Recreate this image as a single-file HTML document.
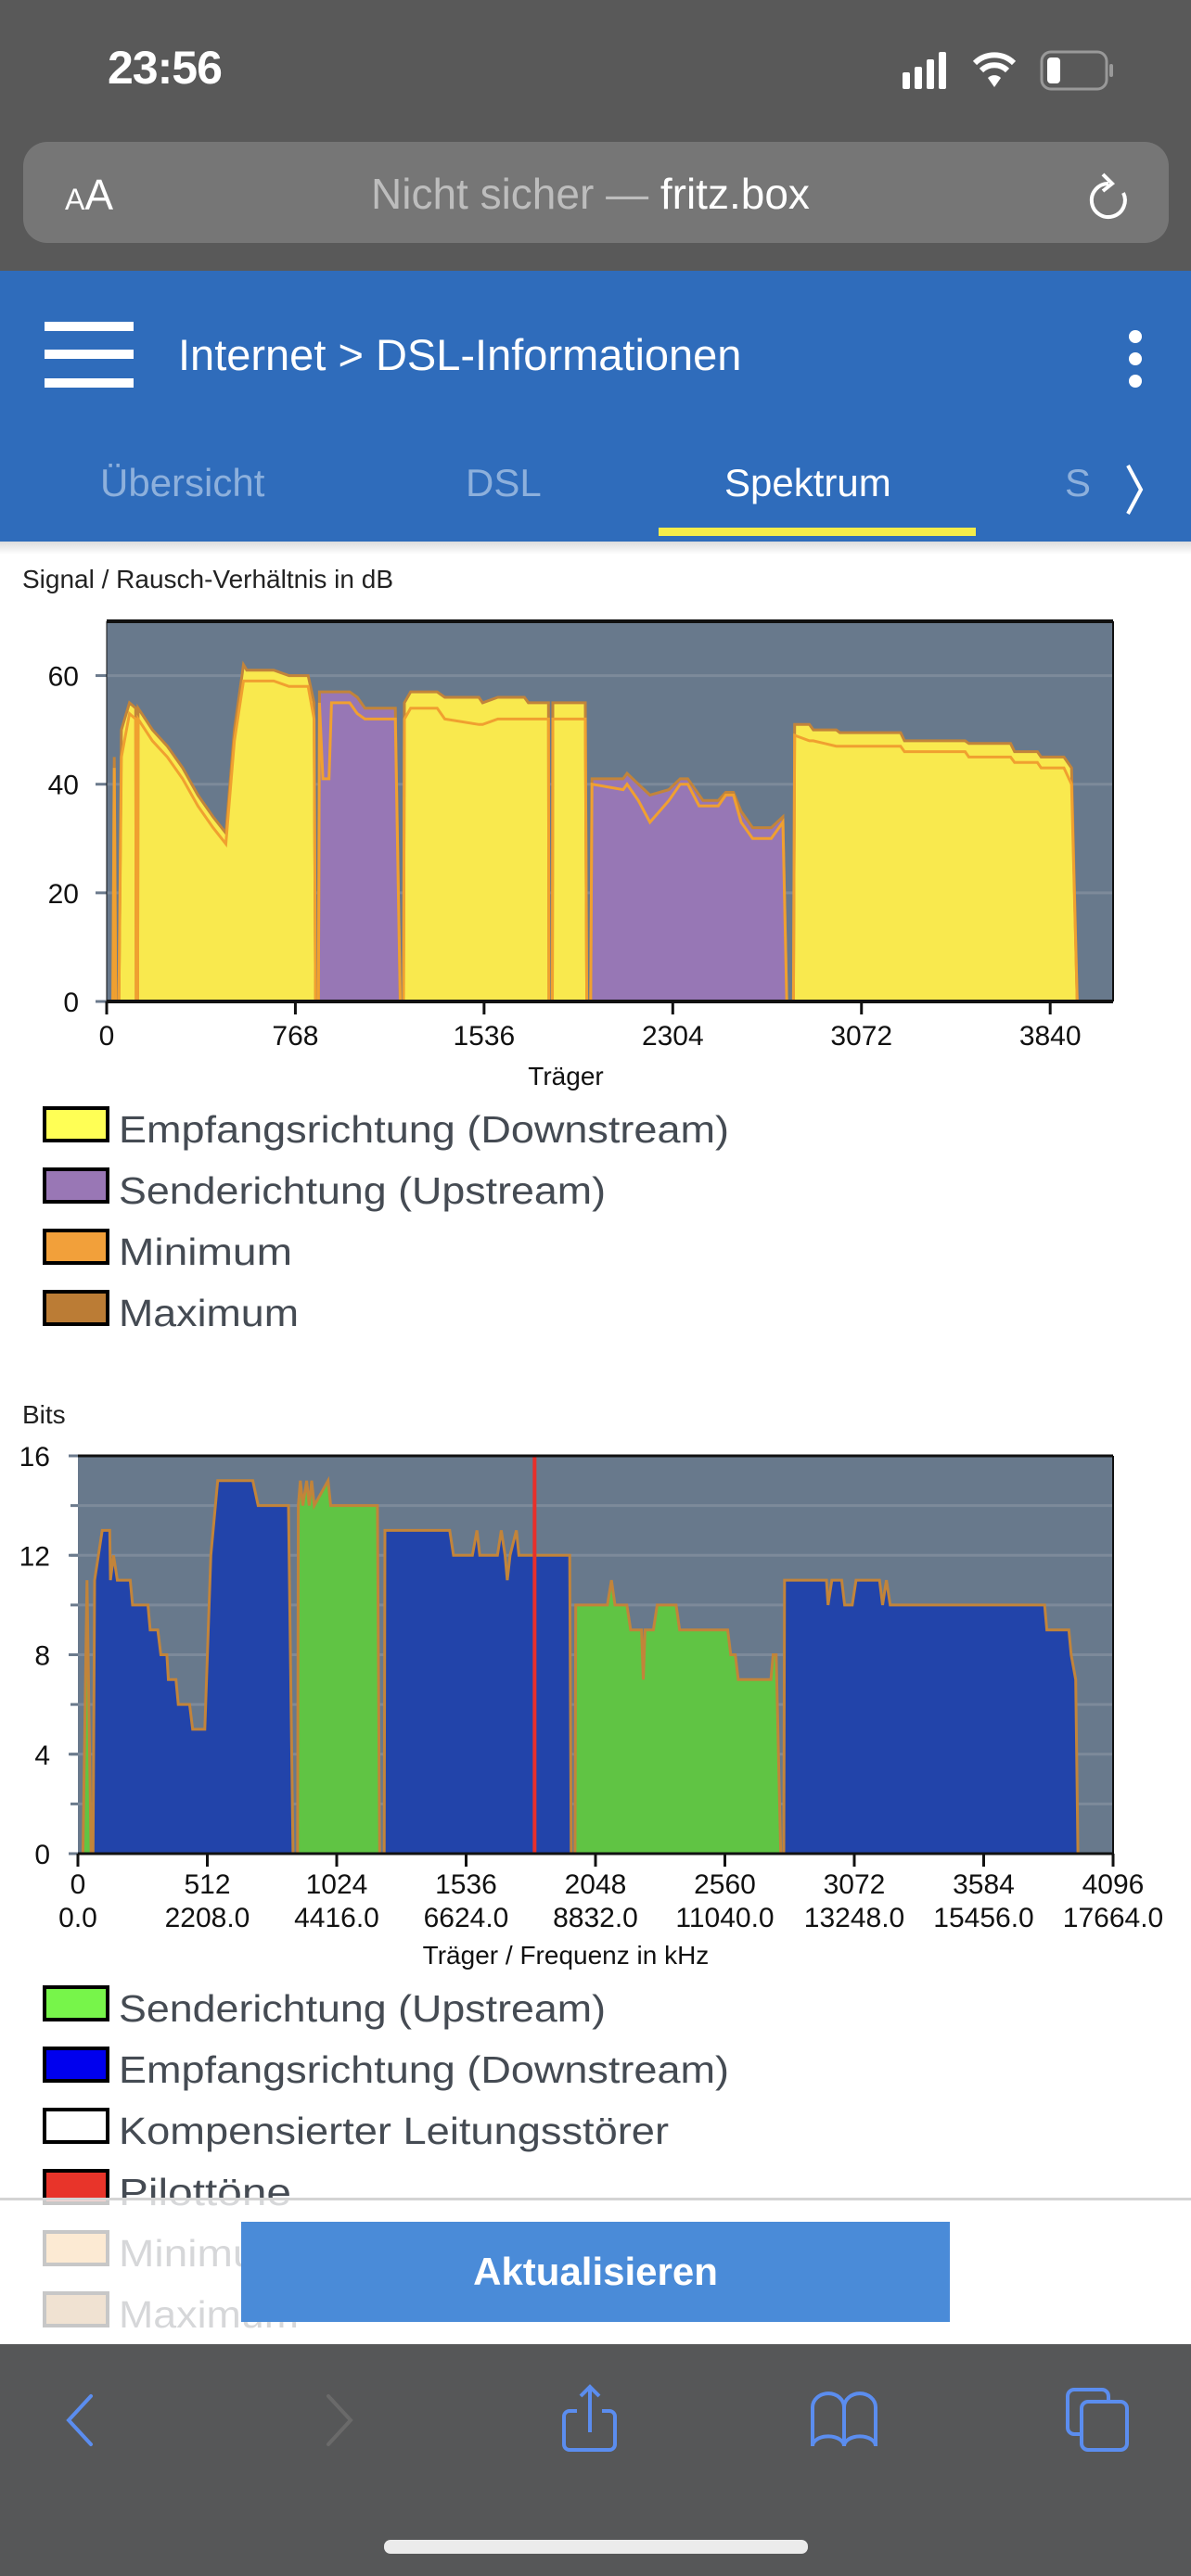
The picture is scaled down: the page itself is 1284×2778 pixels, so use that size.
<!DOCTYPE html>
<html><head><meta charset="utf-8">
<style>
html,body{margin:0;padding:0;}
body{width:1284px;height:2778px;position:relative;overflow:hidden;background:#fff;font-family:"Liberation Sans",sans-serif;}
.abs{position:absolute;}
</style></head>
<body>
<div class="abs" style="left:0;top:0;width:1284px;height:292px;background:#595959;"></div>
<div class="abs" style="left:116px;top:44px;font-size:50px;font-weight:bold;color:#fff;letter-spacing:-1px;">23:56</div>
<svg class="abs" style="left:960px;top:50px" width="250" height="60">
 <rect x="13" y="28" width="8" height="18" rx="2" fill="#fff"/><rect x="26" y="22" width="8" height="24" rx="2" fill="#fff"/><rect x="39" y="14" width="8" height="32" rx="2" fill="#fff"/><rect x="52" y="6" width="8" height="40" rx="2" fill="#fff"/>
 <path d="M91 18 a30 30 0 0 1 42 0" stroke="#fff" stroke-width="6" fill="none"/><path d="M98 26 a20 20 0 0 1 28 0" stroke="#fff" stroke-width="6" fill="none"/><path d="M105 34 l7 10 l7 -10 a10 10 0 0 0 -14 0z" fill="#fff"/>
 <rect x="163" y="6" width="70" height="40" rx="10" fill="none" stroke="#999" stroke-width="3"/><rect x="169" y="12" width="14" height="28" rx="4" fill="#fff"/><rect x="236" y="19" width="4" height="14" rx="2" fill="#999"/>
</svg>
<div class="abs" style="left:25px;top:153px;width:1235px;height:109px;background:#767676;border-radius:26px;"></div>
<div class="abs" style="left:70px;top:183px;color:#fff;font-size:46px;"><span style="font-size:32px">A</span>A</div>
<div class="abs" style="left:400px;top:182px;font-size:46px;color:#bdbdbd;white-space:nowrap;">Nicht sicher — <span style="color:#fff">fritz.box</span></div>
<svg class="abs" style="left:1165px;top:180px" width="60" height="70"><path d="M30 18 a18 18 0 1 0 16 10" stroke="#fff" stroke-width="4" fill="none"/><path d="M24 8 l10 10 l-10 8" stroke="#fff" stroke-width="4" fill="none"/></svg>

<div class="abs" style="left:0;top:292px;width:1284px;height:292px;background:#2f6cbb;"></div>
<div class="abs" style="left:48px;top:347px;width:96px;height:70px;">
 <div style="position:absolute;left:0;top:0;width:96px;height:10px;background:#fff"></div>
 <div style="position:absolute;left:0;top:30px;width:96px;height:10px;background:#fff"></div>
 <div style="position:absolute;left:0;top:61px;width:96px;height:10px;background:#fff"></div>
</div>
<div class="abs" style="left:192px;top:355px;font-size:47px;color:#fff;white-space:nowrap;">Internet <span style="font-weight:100">&gt;</span> DSL-Informationen</div>
<div class="abs" style="left:1214px;top:356px;width:20px;">
 <div style="width:14px;height:14px;border-radius:7px;background:#fff;margin:0 0 10px 3px"></div><div style="width:14px;height:14px;border-radius:7px;background:#fff;margin:0 0 10px 3px"></div><div style="width:14px;height:14px;border-radius:7px;background:#fff;margin:0 0 0 3px"></div>
</div>
<div class="abs" style="left:108px;top:497px;font-size:42px;color:#8db0dc;">Übersicht</div>
<div class="abs" style="left:502px;top:497px;font-size:42px;color:#8db0dc;">DSL</div>
<div class="abs" style="left:781px;top:497px;font-size:42px;color:#fff;">Spektrum</div>
<div class="abs" style="left:1148px;top:497px;font-size:42px;color:#8db0dc;">S</div>
<svg class="abs" style="left:1208px;top:498px" width="30" height="60"><path d="M8 4 L22 30 L8 56" stroke="#fff" stroke-width="4" fill="none"/></svg>
<div class="abs" style="left:710px;top:569px;width:342px;height:9px;background:#f4ec4a;"></div>
<div class="abs" style="left:0;top:584px;width:1284px;height:14px;background:linear-gradient(#ddd,#fff);"></div>

<svg class="abs" id="charts" style="left:0;top:0" width="1284" height="2778" font-family="Liberation Sans, sans-serif"></svg>

<div class="abs" style="left:0;top:2370px;width:1284px;height:158px;background:rgba(255,255,255,0.78);border-top:3px solid #d4d4d4;"></div>
<div class="abs" style="left:260px;top:2396px;width:764px;height:108px;background:#4a8bd8;color:#fff;font-size:42px;font-weight:bold;text-align:center;line-height:108px;">Aktualisieren</div>

<div class="abs" style="left:0;top:2528px;width:1284px;height:250px;background:#565758;"></div>
<svg class="abs" style="left:0;top:2528px" width="1284" height="250">
 <path d="M98 56 L74 82 L98 108" stroke="#5b8def" stroke-width="4" fill="none" stroke-linecap="round"/>
 <path d="M354 56 L378 82 L354 108" stroke="#6a6a6a" stroke-width="4" fill="none" stroke-linecap="round"/>
 <g stroke="#5b8def" stroke-width="4" fill="none"><path d="M622 72 h-8 a6 6 0 0 0 -6 6 v30 a6 6 0 0 0 6 6 h43 a6 6 0 0 0 6 -6 v-30 a6 6 0 0 0 -6 -6 h-8"/><path d="M636 95 V46 M626 56 L636 46 L646 56"/></g>
 <g stroke="#5b8def" stroke-width="4" fill="none"><path d="M876 68 a16 14 0 0 1 34 0 v42 a16 10 0 0 0 -34 0z"/><path d="M910 68 a16 14 0 0 1 34 0 v42 a16 10 0 0 0 -34 0z"/></g>
 <g stroke="#5b8def" stroke-width="4" fill="none"><rect x="1151" y="49" width="44" height="48" rx="7"/><rect x="1166" y="62" width="49" height="52" rx="7" fill="#565758"/></g>
 <rect x="414" y="211" width="457" height="15" rx="7" fill="#ebebeb"/>
</svg>

<script>
// ---------- Chart 1: SNR ----------
const snrTicksX = [0, 768, 1536, 2304, 3072, 3840];
const snrTicksY = [0, 20, 40, 60];
const dsCarrier = [0,25,31,37,50,60,93,118,120,126,128,186,247,309,371,433,485,520,557,570,680,742,820,844,850,1208,1212,1237,1345,1376,1515,1530,1592,1700,1716,1798,1800,1814,1816,1948,1954,2795,2800,2860,2876,2969,2984,3231,3247,3494,3509,3679,3695,3788,3803,3896,3927,3950,4096];
const dsMax =     [0,0,45,0,0,50,55,54,0,0,54,50,47,43,38,34,31,50,62,61,61,60,60,55,0,0,55,57,57,56,56,55,56,56,55,55,0,0,55,55,0,0,51,51,50,50,49.5,49.5,48,48,47.5,47.5,46,46,45,45,43,0,0];
const dsMin =     [0,0,43,0,0,45,53,52,0,0,52,48,45,41,36,32,29,48,59,59,59,58,58,52,0,0,52,54,54,52,51,51,52,52,52,52,0,0,52,52,0,0,49,48,48,47,47,47,46,46,45,45,44,44,43,43,40,0,0];
const usCarrier = [0,862,866,880,905,915,989,1020,1051,1175,1195,1970,1975,2102,2118,2164,2211,2288,2334,2365,2411,2427,2489,2520,2551,2582,2629,2705,2752,2768,4096];
const usMax =     [0,0,57,57,57,57,57,56,54,54,0,0,41,41,42,40,38,39,41,41,38,37,37,38.5,38.5,35,32,32,34,0,0];
const usMin =     [0,0,55,41,41,55,55,53,52,52,0,0,40,39,40,37,33,37,40,40,36,36,36,38,38,33,30,30,33,0,0];

// ---------- Chart 2: Bits ----------
const bitTicksX = [0, 512, 1024, 1536, 2048, 2560, 3072, 3584, 4096];
const bitFreqLabels = ["0.0","2208.0","4416.0","6624.0","8832.0","11040.0","13248.0","15456.0","17664.0"];
const bitTicksY = [0, 4, 8, 12, 16];
const bitGrid = [2, 4, 6, 8, 10, 12, 14];
const downCarrier = [0,60,66,81,96,126,129,141,156,207,216,277,286,316,328,352,358,388,397,442,454,502,526,553,692,713,833,851,1212,1215,1471,1486,1561,1579,1590,1660,1675,1690,1699,1710,1735,1745,1946,1952,2793,2796,2962,2968,2983,3022,3034,3064,3079,3172,3184,3199,3214,3825,3834,3921,3930,3948,3957,4096];
const downBits =    [0,0,11,12,13,13,11,12,11,11,10,10,9,9,8,8,7,7,6,6,5,5,12,15,15,14,14,0,0,13,13,12,12,13,12,12,13,12,11,12,13,12,12,0,0,11,11,10,11,11,10,10,11,11,10,11,10,10,9,9,8,7,0,0];
const upCarrier = [0,20,36,52,869,872,880,890,905,915,925,935,990,1000,1185,1194,1967,1970,2095,2111,2125,2172,2187,2230,2237,2244,2277,2292,2367,2381,2571,2583,2601,2613,2742,2751,2763,2781,4096];
const upBits =    [0,0,11,0,0,14,15,14,15,14,15,14,15,14,14,0,0,10,10,11,10,10,9,9,7,9,9,10,10,9,9,8,8,7,7,8,8,0,0];
const pilotCarriers = [1807];

const svg = document.getElementById('charts');
const NS = 'http://www.w3.org/2000/svg';
function mk(tag, attrs, parent){ const e=document.createElementNS(NS,tag); for(const k in attrs) e.setAttribute(k,attrs[k]); (parent||svg).appendChild(e); return e; }

const A = {l:115, r:1200, t:670, b:1080, xmax:4096, ymax:70};
const B = {l:84, r:1200, t:1570, b:1999, xmax:4096, ymax:16};
function sx(c,v){ return c.l + v/c.xmax*(c.r-c.l); }
function sy(c,v){ return c.b - v/c.ymax*(c.b-c.t); }
function area(c, xs, ys){ let d='M'+sx(c,xs[0])+' '+c.b; for(let i=0;i<xs.length;i++) d+=' L'+sx(c,xs[i]).toFixed(1)+' '+sy(c,ys[i]).toFixed(1); d+=' L'+sx(c,xs[xs.length-1])+' '+c.b+' Z'; return d; }
function line(c, xs, ys){ let d=''; for(let i=0;i<xs.length;i++) d+=(i?' L':'M')+sx(c,xs[i]).toFixed(1)+' '+sy(c,ys[i]).toFixed(1); return d; }

// ---- Chart 1 ----
let t = mk('text',{x:24,y:634,'font-size':28,fill:'#222'});


t.textContent='Signal / Rausch-Verhältnis in dB';
let bg = mk('rect',{x:A.l,y:A.t,width:A.r-A.l,height:A.b-A.t,fill:'#68798c'});


snrTicksY.forEach(v=>{
  if(v>0){ const g=mk('line',{x1:A.l,x2:A.r,y1:sy(A,v),y2:sy(A,v),stroke:'#7d8a9a','stroke-width':3});
  
   }
  mk('line',{x1:A.l-12,x2:A.l,y1:sy(A,v),y2:sy(A,v),stroke:'#6b7a8c','stroke-width':3});
  const l=mk('text',{x:A.l-30,y:sy(A,v)+11,'font-size':30,'text-anchor':'end',fill:'#111'});
  
  
  l.textContent=v;
});
let p = mk('path',{d:area(A,dsCarrier,dsMax),fill:'#f9e94e',stroke:'#c2843a','stroke-width':3});


p = mk('path',{d:area(A,usCarrier,usMax),fill:'#9777b5',stroke:'#c2843a','stroke-width':3});


p = mk('path',{d:line(A,dsCarrier,dsMin),fill:'none',stroke:'#f0a030','stroke-width':3});


p = mk('path',{d:line(A,usCarrier,usMin),fill:'none',stroke:'#f0a030','stroke-width':3});


mk('line',{x1:A.l,x2:A.r,y1:A.t,y2:A.t,stroke:'#111','stroke-width':4});
mk('line',{x1:A.r,x2:A.r,y1:A.t,y2:A.b,stroke:'#111','stroke-width':2});
mk('line',{x1:A.l,x2:A.l,y1:A.t,y2:A.b,stroke:'#111','stroke-width':1});
mk('line',{x1:A.l,x2:A.r,y1:A.b,y2:A.b,stroke:'#111','stroke-width':4});
snrTicksX.forEach(v=>{
  mk('line',{x1:sx(A,v),x2:sx(A,v),y1:A.b,y2:A.b+14,stroke:'#111','stroke-width':3});
  const l=mk('text',{x:sx(A,v),y:1127,'font-size':30,'text-anchor':'middle',fill:'#111'});
  
  
  l.textContent=v;
});
t = mk('text',{x:610,y:1170,'font-size':28,'text-anchor':'middle',fill:'#111'});


t.textContent='Träger';

function legend(items, y0){
  items.forEach((it,i)=>{
    const y=y0+i*66;
    const r=mk('rect',{x:48,y:y,width:68,height:35,fill:it[1],stroke:'#000','stroke-width':4});
    
    
    const tx=mk('text',{x:128,y:y+37,'font-size':41,fill:'#454b53',textLength:it[2],lengthAdjust:'spacingAndGlyphs'});
    
    
    tx.textContent=it[0];
  });
}
legend([['Empfangsrichtung (Downstream)','#ffff55',658],['Senderichtung (Upstream)','#9977b5',525],['Minimum','#f2a03a',187],['Maximum','#bb7c35',194]],1195);

// ---- Chart 2 ----
t = mk('text',{x:24,y:1535,'font-size':28,fill:'#222'});


t.textContent='Bits';
bg = mk('rect',{x:B.l,y:B.t,width:B.r-B.l,height:B.b-B.t,fill:'#68798c'});


bitGrid.forEach(v=>{
  const g=mk('line',{x1:B.l,x2:B.r,y1:sy(B,v),y2:sy(B,v),stroke:'#7d8a9a','stroke-width':3});
  
  
  mk('line',{x1:B.l-8,x2:B.l,y1:sy(B,v),y2:sy(B,v),stroke:'#6b7a8c','stroke-width':3});
});
bitTicksY.forEach(v=>{
  mk('line',{x1:B.l-10,x2:B.l,y1:sy(B,v),y2:sy(B,v),stroke:'#6b7a8c','stroke-width':3});
  const l=mk('text',{x:B.l-30,y:sy(B,v)+11,'font-size':30,'text-anchor':'end',fill:'#111'});
  
  
  l.textContent=v;
});
p = mk('path',{d:area(B,upCarrier,upBits),fill:'#60c444',stroke:'#c2843a','stroke-width':3});


p = mk('path',{d:area(B,downCarrier,downBits),fill:'#2244aa',stroke:'#c2843a','stroke-width':3});


pilotCarriers.forEach(c=>{
  const pl=mk('line',{x1:sx(B,c),x2:sx(B,c),y1:B.t,y2:B.b,stroke:'#e8302a','stroke-width':4});
  
  
});
mk('line',{x1:B.l,x2:B.r,y1:B.t,y2:B.t,stroke:'#111','stroke-width':3});
mk('line',{x1:B.r,x2:B.r,y1:B.t,y2:B.b,stroke:'#111','stroke-width':2});
mk('line',{x1:B.l,x2:B.r,y1:B.b,y2:B.b,stroke:'#111','stroke-width':3});
bitTicksX.forEach((v,i)=>{
  mk('line',{x1:sx(B,v),x2:sx(B,v),y1:B.b,y2:B.b+14,stroke:'#111','stroke-width':3});
  const l=mk('text',{x:sx(B,v),y:2042,'font-size':30,'text-anchor':'middle',fill:'#111'});
  
  
  l.textContent=v;
  const f=mk('text',{x:sx(B,v),y:2078,'font-size':30,'text-anchor':'middle',fill:'#111'});
  
  
  f.textContent=bitFreqLabels[i];
});
t = mk('text',{x:610,y:2118,'font-size':28,'text-anchor':'middle',fill:'#111'});


t.textContent='Träger / Frequenz in kHz';

legend([['Senderichtung (Upstream)','#77f54a',525],['Empfangsrichtung (Downstream)','#0000ee',658],['Kompensierter Leitungsstörer','#ffffff',593],['Pilottöne','#e8342a',186],['Minimum','#f2a03a',187],['Maximum','#bb7c35',194]],2143);
</script>
</body></html>
